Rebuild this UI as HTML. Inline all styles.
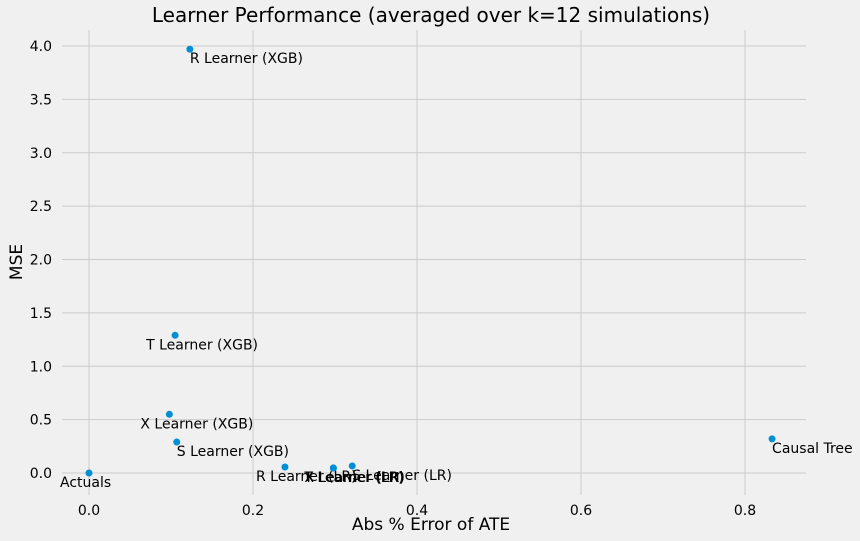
<!DOCTYPE html>
<html><head><meta charset="utf-8"><style>
body{margin:0;background:#f0f0f0;}
svg{display:block;font-family:"DejaVu Sans","Liberation Sans",sans-serif;}
</style></head><body>
<svg id="chart" width="860" height="541"></svg>
<script>
const names=["Actuals","R Learner (XGB)","T Learner (XGB)","X Learner (XGB)","S Learner (XGB)","Causal Tree","R Learner (LR)","X Learner (LR)","T Learner (LR)","S Learner (LR)"];
const absErr=[0,0.123,0.105,0.098,0.107,0.833,0.239,0.298,0.298,0.321];
const mse=[0,3.97,1.29,0.55,0.29,0.32,0.056,0.047,0.047,0.066];
const xTicks=[0,0.2,0.4,0.6,0.8];
const yTicks=[0,0.5,1,1.5,2,2.5,3,3.5,4];
const labelShift=[1,0,1,1,0,0,1,1,1,0];
const NS="http://www.w3.org/2000/svg";
const svg=document.getElementById('chart');
const L=62,R=806,T=30,B=495;
const sx=v=>89+v*820, sy=v=>473-v*106.75;
function el(t,a,txt){const e=document.createElementNS(NS,t);for(const k in a)e.setAttribute(k,a[k]);if(txt!==undefined)e.textContent=txt;svg.appendChild(e);return e;}
xTicks.forEach(v=>{
 const g=el('line',{x1:sx(v),x2:sx(v),y1:T,y2:B,stroke:'#cbcbcb','stroke-width':1});
 
 
 const t=el('text',{x:sx(v),y:B+20,'text-anchor':'middle','font-size':14,fill:'#000'},v.toFixed(1));
 
 
});
yTicks.forEach(v=>{
 const g=el('line',{x1:L,x2:R,y1:sy(v),y2:sy(v),stroke:'#cbcbcb','stroke-width':1});
 
 
 const t=el('text',{x:L-10,y:sy(v)+5,'text-anchor':'end','font-size':14,fill:'#000'},v.toFixed(1));
 
 
});
names.forEach((n,i)=>{
 const c=el('circle',{cx:sx(absErr[i]),cy:sy(mse[i]),r:3.5,fill:'#008fd5'});
 
 
 const t=el('text',{x:sx(absErr[i])-29*labelShift[i],y:sy(mse[i])+14,'font-size':14,fill:'#000'},n);
 
 
});
const title=el('text',{x:431,y:22,'text-anchor':'middle','font-size':20,fill:'#000'},'Learner Performance (averaged over k=12 simulations)');


const xl=el('text',{x:431,y:530,'text-anchor':'middle','font-size':17,fill:'#000'},'Abs % Error of ATE');


const yl=el('text',{x:0,y:0,'text-anchor':'middle','font-size':17,fill:'#000',transform:'translate(22,262) rotate(-90)'},'MSE');


</script>
</body></html>
